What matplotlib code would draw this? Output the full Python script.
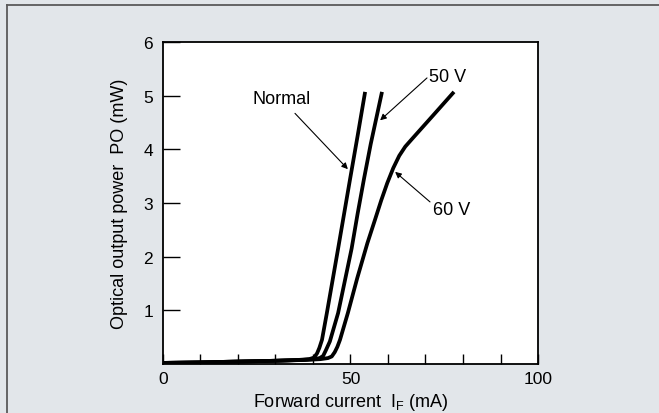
import matplotlib.pyplot as plt
from matplotlib.lines import Line2D

plt.rcParams['font.family'] = ['Liberation Sans', 'DejaVu Sans']

# Forward current (mA) vs optical output power (mW)
normal_x = [0, 10, 20, 30, 36, 39, 40.3, 41.1, 41.7, 42.4, 43.7, 45.2, 46.7, 48.3, 49.9, 51.9, 53.9]
normal_y = [0.02, 0.03, 0.045, 0.06, 0.075, 0.09, 0.12, 0.2, 0.3, 0.45, 0.95, 1.55, 2.15, 2.8, 3.45, 4.25, 5.07]

v50_x = [0, 10, 20, 30, 37, 40, 41.8, 42.7, 43.4, 44.5, 46.7, 48.5, 50.3, 51.9, 53.6, 55.4, 58.4]
v50_y = [0.02, 0.03, 0.045, 0.06, 0.075, 0.09, 0.11, 0.15, 0.25, 0.42, 0.95, 1.55, 2.15, 2.8, 3.45, 4.1, 5.07]

v60_x = [0, 10, 20, 30, 38, 42, 44, 45, 45.8, 46.5, 47.2, 49.3, 51.8, 54.5, 56.5, 58.2, 59.8, 61.4, 63.0, 64.6, 66.5, 72, 77.6]
v60_y = [0.02, 0.03, 0.045, 0.06, 0.075, 0.09, 0.11, 0.14, 0.22, 0.32, 0.45, 0.95, 1.6, 2.25, 2.68, 3.05, 3.37, 3.65, 3.88, 4.05, 4.2, 4.63, 5.07]

x_ticks = list(range(0, 101, 10))
x_labels = ['0' if t == 0 else '50' if t == 50 else '100' if t == 100 else '' for t in x_ticks]
y_ticks = [1, 2, 3, 4, 5, 6]

fig = plt.figure(figsize=(6.59, 4.14), dpi=100)
fig.patch.set_facecolor('#e2e6ea')
ax = fig.add_axes([0.2473, 0.1184, 0.5691, 0.7778])
ax.set_facecolor('white')

# frame lines on top and left of the figure
fig.add_artist(Line2D([7 / 659, 1], [1 - 6 / 414, 1 - 6 / 414], color='#5a5a5a', lw=1.3, transform=fig.transFigure))
fig.add_artist(Line2D([7 / 659, 7 / 659], [0, 1 - 6 / 414], color='#5a5a5a', lw=1.3, transform=fig.transFigure))

for xs, ys in [(normal_x, normal_y), (v50_x, v50_y), (v60_x, v60_y)]:
    ax.plot(xs, ys, color='black', lw=2.7, solid_joinstyle='round', solid_capstyle='butt')

ax.set_xlim(0, 100)
ax.set_ylim(0, 6)
ax.set_xticks(x_ticks)
ax.set_xticklabels(x_labels)
ax.set_yticks(y_ticks)
ax.tick_params(axis='x', direction='in', length=7, width=1, labelsize=12.5, pad=5)
ax.tick_params(axis='y', direction='in', length=12, width=1, labelsize=12.5, pad=7)
for s in ax.spines.values():
    s.set_linewidth(1.3)

ax.set_xlabel('Forward current  I$\\mathregular{_F}$ (mA)', fontsize=13, labelpad=4)
ax.set_ylabel('Optical output power  PO (mW)', fontsize=13, labelpad=11)

arrow = dict(arrowstyle='-|>', color='black', lw=0.8, mutation_scale=9, shrinkA=0, shrinkB=0)
ax.annotate('', xy=(49.3, 3.63), xytext=(35.2, 4.67), arrowprops=arrow)
ax.text(31.7, 4.95, 'Normal', fontsize=13, ha='center', va='center')
ax.annotate('', xy=(57.9, 4.54), xytext=(70.4, 5.33), arrowprops=arrow)
ax.text(71.0, 5.36, '50 V', fontsize=13, ha='left', va='center')
ax.annotate('', xy=(61.9, 3.58), xytext=(71.2, 3.02), arrowprops=arrow)
ax.text(72.0, 2.87, '60 V', fontsize=13, ha='left', va='center')

fig.savefig('out.png', dpi=100, facecolor=fig.get_facecolor())
